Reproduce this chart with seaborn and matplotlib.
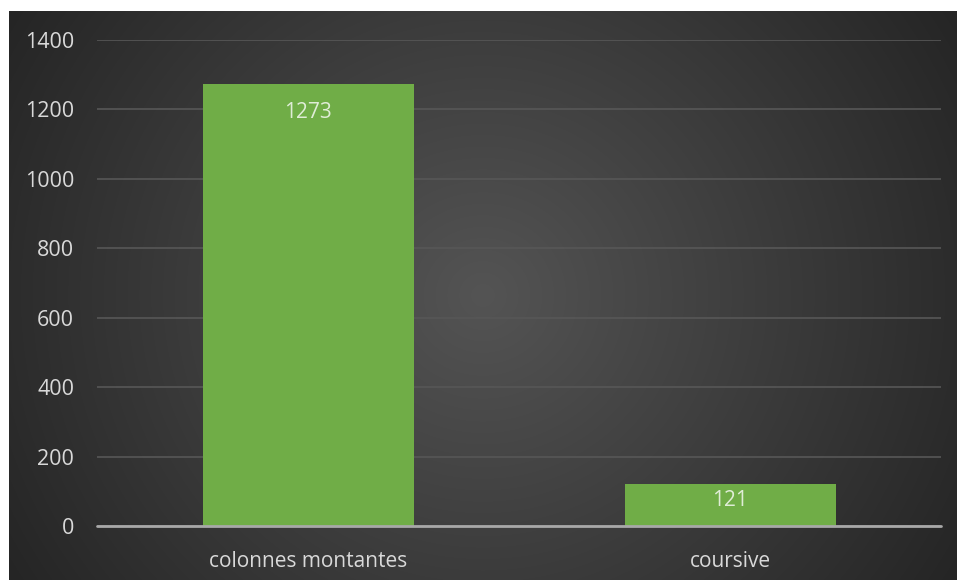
import numpy as np
import pandas as pd
import matplotlib
matplotlib.use("Agg")
import matplotlib.pyplot as plt
import seaborn as sns

categories = ["colonnes montantes", "coursive"]
values = [1273, 121]
yticks = [0, 200, 400, 600, 800, 1000, 1200, 1400]

sns.set_theme(style="dark")
plt.rcParams['font.family'] = ['Open Sans', 'DejaVu Sans']

W, H = 957, 580
fig = plt.figure(figsize=(W / 100, H / 100), dpi=100, facecolor="white")

# background radial gradient
bg = fig.add_axes([9 / W, 0, (W - 9) / W, (H - 11) / H])
bg.set_axis_off()
gy, gx = np.mgrid[0:1:400j, 0:1:600j]
cx, cy = 0.5, 0.5
r = np.sqrt(((gx - cx) * 1.0) ** 2 + ((gy - cy) * 0.62) ** 2)
r = r / r.max()
inner = np.array([0x54, 0x54, 0x54]) / 255
outer = np.array([0x25, 0x25, 0x25]) / 255
img = inner[None, None, :] * (1 - r[..., None]) + outer[None, None, :] * r[..., None]
bg.imshow(img, aspect="auto", extent=[0, 1, 0, 1], interpolation="bilinear")
bg.set_xlim(0, 1)
bg.set_ylim(0, 1)

ax = fig.add_axes([97 / W, (H - 526) / H, (941 - 97) / W, (526 - 40) / H])
ax.patch.set_alpha(0)

df = pd.DataFrame({"cat": categories, "val": values})
sns.barplot(data=df, x="cat", y="val", color="#70AD47", saturation=1, width=0.5,
            linewidth=0, edgecolor="none", ax=ax, zorder=2)

ax.set_ylim(0, 1400)
ax.set_yticks(yticks)
ax.set_yticklabels([str(t) for t in yticks])
ax.set_xlabel("")
ax.set_ylabel("")
for s in ax.spines.values():
    s.set_visible(False)
ax.grid(axis="y", color="#575757", linewidth=1.2, zorder=0)
ax.grid(axis="x", visible=False)
ax.set_axisbelow(True)
ax.axhline(0, color="#a8a8a8", linewidth=2, zorder=3, clip_on=False)
ax.tick_params(axis="both", length=0, colors="#d9d9d9", labelsize=15.5)
ax.tick_params(axis="x", labelsize=15)
ax.tick_params(axis="y", pad=16.5)
ax.tick_params(axis="x", pad=18)

offsets = [-28, -17]
for i, (c, v) in enumerate(zip(categories, values)):
    ax.annotate(str(v), xy=(i, v), xytext=(0, offsets[i] * 0.72), textcoords="offset points",
                ha="center", va="center", fontsize=15, color="white", alpha=0.78, zorder=4)

fig.savefig("out.png", dpi=100, facecolor="white")
